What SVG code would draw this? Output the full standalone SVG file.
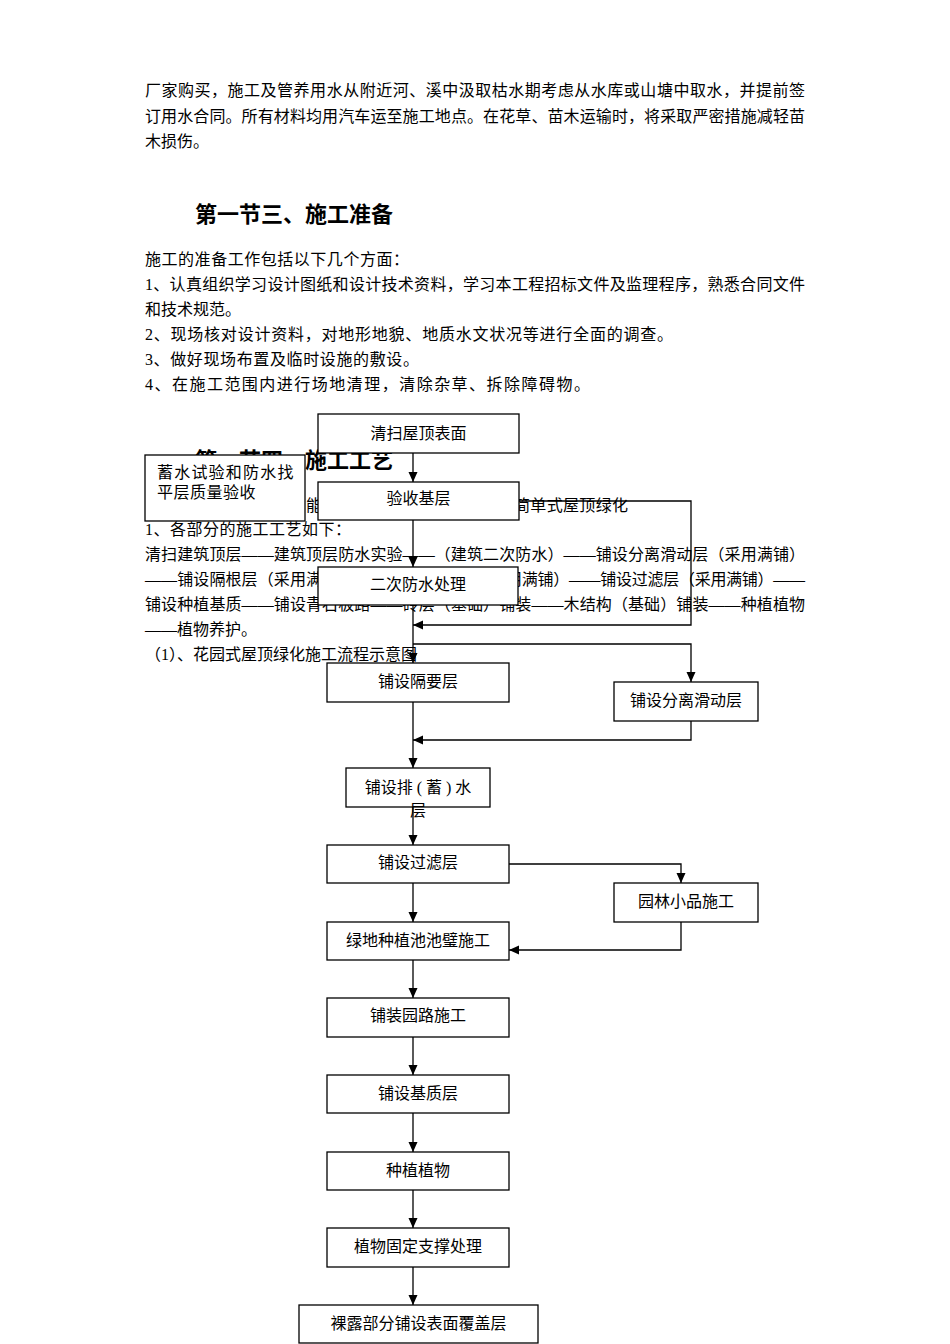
<svg xmlns="http://www.w3.org/2000/svg" width="950" height="1344" viewBox="0 0 950 1344">
<defs>
<style>
.t{font-family:"Liberation Serif","Noto Sans CJK SC",serif;font-size:16px;fill:#000}
.h{font-family:"Noto Sans CJK SC",sans-serif;font-size:22px;font-weight:bold;fill:#000}
.bx{fill:#fff;stroke:#000;stroke-width:1.3}
.bt{font-family:"Liberation Serif","Noto Sans CJK SC",serif;font-size:16px;fill:#000;text-anchor:middle}
.ln{fill:none;stroke:#000;stroke-width:1.3;marker-end:url(#ah)}
</style>
<marker id="ah" markerWidth="10" markerHeight="10" refX="10" refY="5" orient="auto" markerUnits="userSpaceOnUse">
<path d="M0,0.5 L10,5 L0,9.5 z" fill="#000"/>
</marker>
</defs>
<rect width="950" height="1344" fill="#fff"/>

<g id="body-text">
<text class="t" x="145" y="96" textLength="660" lengthAdjust="spacing">厂家购买，施工及管养用水从附近河、溪中汲取枯水期考虑从水库或山塘中取水，并提前签</text>
<text class="t" x="145" y="122" textLength="660" lengthAdjust="spacing">订用水合同。所有材料均用汽车运至施工地点。在花草、苗木运输时，将采取严密措施减轻苗</text>
<text class="t" x="145" y="147">木损伤。</text>
<text class="h" x="195" y="222">第一节三、施工准备</text>
<text class="t" x="145" y="265" textLength="264" lengthAdjust="spacing">施工的准备工作包括以下几个方面：</text>
<text class="t" x="145" y="290" textLength="660" lengthAdjust="spacing">1、认真组织学习设计图纸和设计技术资料，学习本工程招标文件及监理程序，熟悉合同文件</text>
<text class="t" x="145" y="315">和技术规范。</text>
<text class="t" x="145" y="340" textLength="528" lengthAdjust="spacing">2、现场核对设计资料，对地形地貌、地质水文状况等进行全面的调查。</text>
<text class="t" x="145" y="365" textLength="274" lengthAdjust="spacing">3、做好现场布置及临时设施的敷设。</text>
<text class="t" x="145" y="390" textLength="445" lengthAdjust="spacing">4、在施工范围内进行场地清理，清除杂草、拆除障碍物。</text>
<text class="h" x="195" y="468">第一节四、施工工艺</text>
<text class="t" x="306" y="511">能</text>
<text class="t" x="514" y="511" textLength="114" lengthAdjust="spacing">简单式屋顶绿化</text>
<text class="t" x="145" y="535" textLength="206" lengthAdjust="spacing">1、各部分的施工工艺如下：</text>
<text class="t" x="145" y="560" textLength="660" lengthAdjust="spacing">清扫建筑顶层——建筑顶层防水实验——（建筑二次防水）——铺设分离滑动层（采用满铺）</text>
<text class="t" x="145" y="585" textLength="177" lengthAdjust="spacing">——铺设隔根层（采用满</text>
<text class="t" x="506" y="585" textLength="299" lengthAdjust="spacing">用满铺）——铺设过滤层（采用满铺）——</text>
<text class="t" x="145" y="610" textLength="660" lengthAdjust="spacing">铺设种植基质——铺设青石板路——砖层（基础）铺装——木结构（基础）铺装——种植植物</text>
<text class="t" x="145" y="635">——植物养护。</text>
<text class="t" x="145" y="660">（1）、花园式屋顶绿化施工流程示意图</text>
</g>

<g id="connectors">
<path class="ln" d="M413,453 V482"/>
<path class="ln" d="M413,520 V567"/>
<path class="ln" d="M519,501 H691 V625 H413"/>
<path class="ln" d="M413,605 V663"/>
<path class="ln" d="M413,644 H691 V682"/>
<path class="ln" d="M691,721 V740 H413"/>
<path class="ln" d="M413,702 V768"/>
<path class="ln" d="M413,807 V845"/>
<path class="ln" d="M509,864 H681 V883"/>
<path class="ln" d="M681,922 V950 H509"/>
<path class="ln" d="M413,883 V922"/>
<path class="ln" d="M413,960 V998"/>
<path class="ln" d="M413,1037 V1075"/>
<path class="ln" d="M413,1113 V1152"/>
<path class="ln" d="M413,1190 V1228"/>
<path class="ln" d="M413,1267 V1305"/>
</g>

<g id="n1"><rect class="bx" x="318" y="414" width="201" height="39"/><text class="bt" x="418.5" y="439">清扫屋顶表面</text></g>
<g id="n2"><rect class="bx" x="145" y="455" width="160" height="66"/><text class="t" x="157" y="478" letter-spacing="1.2">蓄水试验和防水找</text><text class="t" x="157" y="498" letter-spacing="0.5">平层质量验收</text></g>
<g id="n3"><rect class="bx" x="318" y="482" width="201" height="38"/><text class="bt" x="418.5" y="504">验收基层</text></g>
<g id="n4"><rect class="bx" x="318" y="567" width="200" height="38"/><text class="bt" x="418" y="590">二次防水处理</text></g>
<g id="n5"><rect class="bx" x="327" y="663" width="182" height="39"/><text class="bt" x="418" y="687">铺设隔要层</text></g>
<g id="n6"><rect class="bx" x="614" y="682" width="144" height="39"/><text class="bt" x="686" y="706">铺设分离滑动层</text></g>
<g id="n7"><rect class="bx" x="346" y="768" width="144" height="39"/><text class="bt" x="418" y="793">铺设排 ( 蓄 ) 水</text><text class="bt" x="418" y="816">层</text></g>
<g id="n8"><rect class="bx" x="327" y="845" width="182" height="38"/><text class="bt" x="418" y="868">铺设过滤层</text></g>
<g id="n9"><rect class="bx" x="614" y="883" width="144" height="39"/><text class="bt" x="686" y="907">园林小品施工</text></g>
<g id="n10"><rect class="bx" x="327" y="922" width="182" height="38"/><text class="bt" x="418" y="946">绿地种植池池璧施工</text></g>
<g id="n11"><rect class="bx" x="327" y="998" width="182" height="39"/><text class="bt" x="418" y="1021">铺装园路施工</text></g>
<g id="n12"><rect class="bx" x="327" y="1075" width="182" height="38"/><text class="bt" x="418" y="1099">铺设基质层</text></g>
<g id="n13"><rect class="bx" x="327" y="1152" width="182" height="38"/><text class="bt" x="418" y="1176">种植植物</text></g>
<g id="n14"><rect class="bx" x="327" y="1228" width="182" height="39"/><text class="bt" x="418" y="1252">植物固定支撑处理</text></g>
<g id="n15"><rect class="bx" x="299" y="1305" width="239" height="38"/><text class="bt" x="418.5" y="1329">裸露部分铺设表面覆盖层</text></g>
</svg>
